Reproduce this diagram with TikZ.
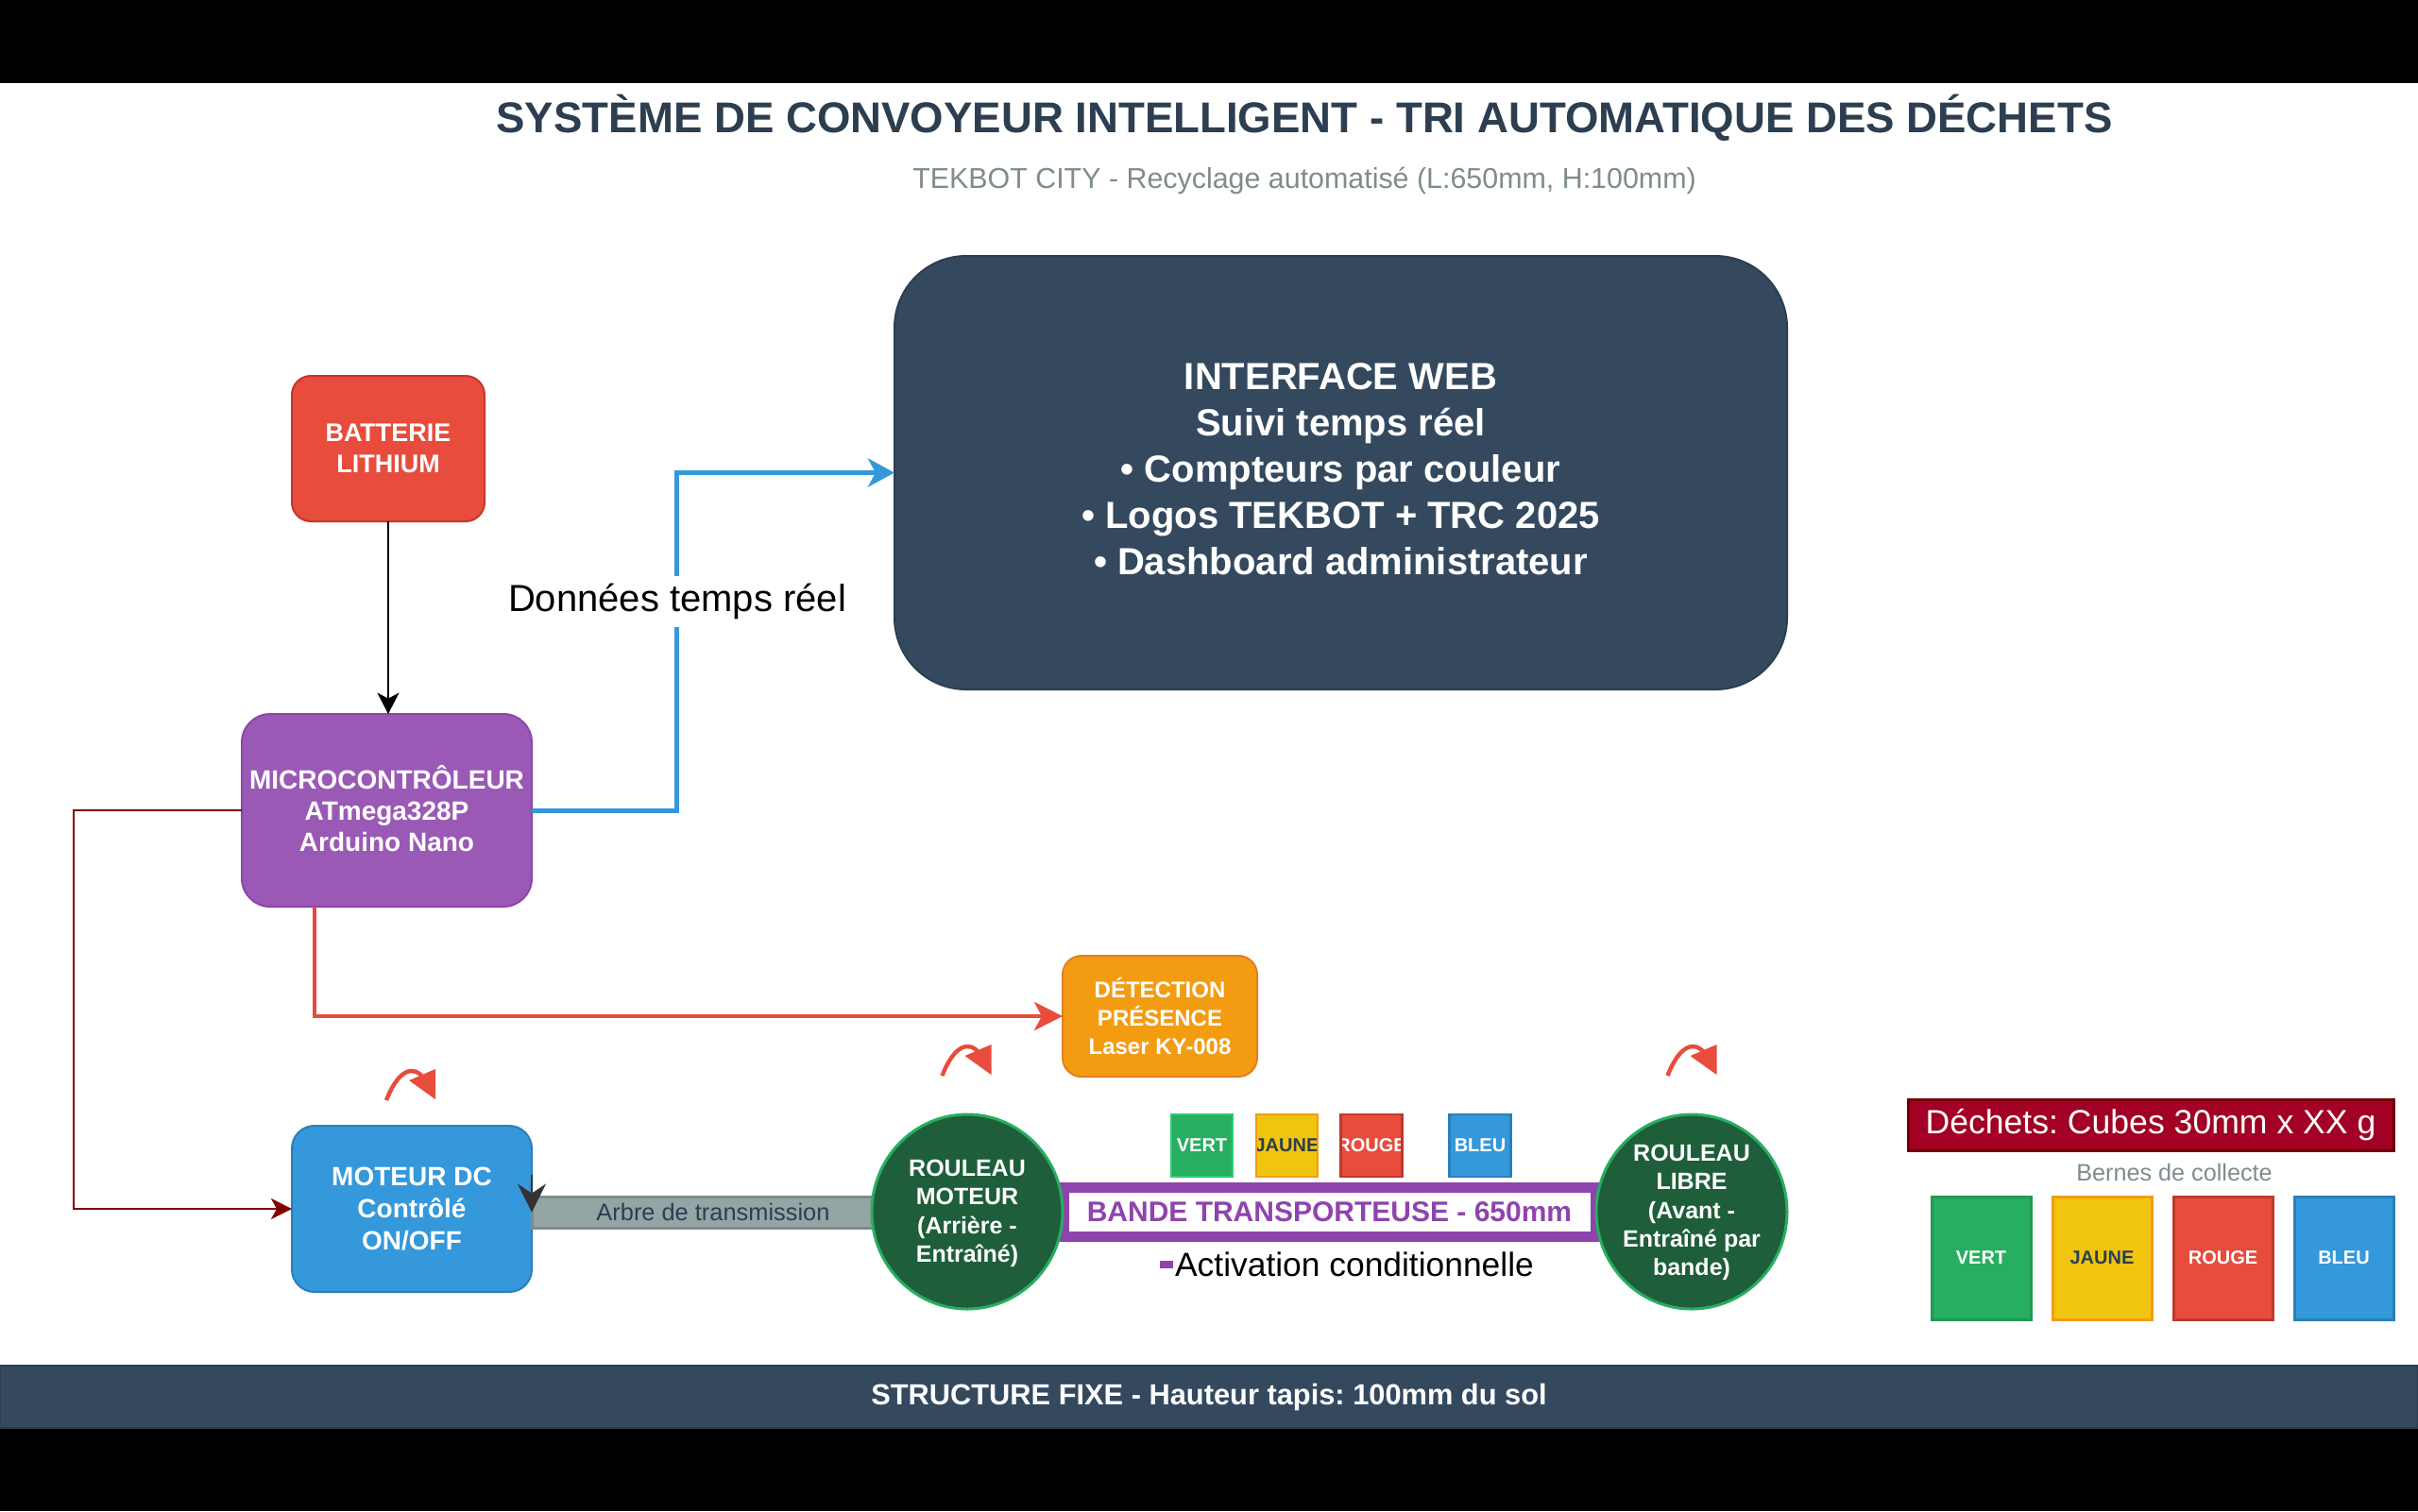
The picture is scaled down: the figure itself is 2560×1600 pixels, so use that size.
\documentclass[tikz,border=0pt]{standalone}
\usepackage{fontspec}
\setmainfont{Liberation Sans}
\usetikzlibrary{arrows.meta,shapes.geometric,calc}
\definecolor{dark}{HTML}{2C3E50}
\definecolor{slate}{HTML}{34495E}
\definecolor{grayt}{HTML}{7F8C8D}
\definecolor{redA}{HTML}{E74C3C}
\definecolor{redB}{HTML}{C0392B}
\definecolor{purA}{HTML}{9B59B6}
\definecolor{purB}{HTML}{8E44AD}
\definecolor{orA}{HTML}{F39C12}
\definecolor{orB}{HTML}{E67E22}
\definecolor{bluA}{HTML}{3498DB}
\definecolor{bluB}{HTML}{2980B9}
\definecolor{grnA}{HTML}{27AE60}
\definecolor{grnB}{HTML}{229954}
\definecolor{grnD}{HTML}{1E5E3A}
\definecolor{grnL}{HTML}{2ECC71}
\definecolor{yelA}{HTML}{F1C40F}
\definecolor{shaftc}{HTML}{95A5A6}
\definecolor{crim}{HTML}{A20025}
\definecolor{crimB}{HTML}{6F0000}
\definecolor{maroonc}{HTML}{800000}
\definecolor{tipgray}{HTML}{333333}
\newcommand{\fs}[2]{\fontsize{#1pt}{#2pt}\selectfont}
\frenchspacing
\begin{document}
\begin{tikzpicture}[x=0.25pt,y=-0.25pt,
  every node/.style={inner sep=0pt, outer sep=0pt, align=center},
  rbox/.style={rectangle, line width=0.5pt, text=white},
  sq/.style={rectangle, line width=0.6pt, minimum width=16.25pt, minimum height=16.5pt},
  sqtxt/.style={font=\fs{5}{6}\bfseries},
  bin/.style={rectangle, line width=0.75pt, minimum width=26.25pt, minimum height=32.5pt, font=\fs{5}{6}\bfseries, text=white},
  roller/.style={ellipse, fill=grnD, draw=grnA, line width=0.75pt, minimum width=50.5pt, minimum height=51.5pt},
  rtext/.style={text=white, font=\fs{6.25}{7.6}\bfseries},
  rot/.pic={
    \draw[redA, line width=1.1pt] (-26,17) .. controls (-14,-14) and (2,-22) .. (14,-6);
    \fill[redA] (26,-16) -- (26,16) -- (-2,-4) -- cycle;
  }
]
\useasboundingbox (0,0) rectangle (2560,1600);
\fill[black] (0,0) rectangle (2560,1600);
\fill[white] (0,88) rectangle (2560,1512);

% titles
\node[anchor=base, font=\fs{11.4}{14}\bfseries, text=dark] (title) at (1381,140)
  {SYSTÈME DE CONVOYEUR INTELLIGENT - TRI AUTOMATIQUE DES DÉCHETS};
\node[anchor=base, font=\fs{7.6}{9}, text=grayt] (subtitle) at (1381,199)
  {TEKBOT CITY - Recyclage automatisé (L:650mm, H:100mm)};

% main boxes
\node[rbox, rounded corners=19pt, fill=slate, draw=dark, minimum width=236.25pt, minimum height=114.75pt] (web) at (1419.5,500.5) {};
\node[text=white, font=\fs{10}{12.25}\bfseries] (webT) at (1419.5,497)
  {INTERFACE WEB\\Suivi temps réel\\• Compteurs par couleur\\• Logos TEKBOT + TRC 2025\\• Dashboard administrateur};
\node[rbox, rounded corners=5pt, fill=redA, draw=redB, minimum width=51pt, minimum height=38.5pt,
  font=\fs{6.75}{8.25}\bfseries] (batt) at (411,475) {BATTERIE\\LITHIUM};
\node[rbox, rounded corners=7.5pt, fill=purA, draw=purB, minimum width=76.75pt, minimum height=51pt] (micro) at (409.5,858) {};
\node[text=white, font=\fs{7}{8.3}\bfseries] (microT) at (409.5,856) {MICROCONTRÔLEUR\\ATmega328P\\Arduino Nano};
\node[rbox, rounded corners=5pt, fill=orA, draw=orB, minimum width=51.5pt, minimum height=32pt,
  font=\fs{6}{7.6}\bfseries] (detect) at (1228,1076) {DÉTECTION\\PRÉSENCE\\Laser KY-008};
\node[rbox, rounded corners=6pt, fill=bluA, draw=bluB, minimum width=63.5pt, minimum height=44pt,
  font=\fs{7}{8.4}\bfseries] (moteur) at (436,1280) {MOTEUR DC\\Contrôlé\\ON/OFF};

% shaft
\node[rectangle, fill=shaftc, draw=grayt, line width=0.75pt, minimum width=96pt, minimum height=8.25pt,
  font=\fs{6.35}{7.5}, text=dark] (arbre) at (755,1283.5) {Arbre de transmission};

% belt
\node[rectangle, fill=white, draw=purB, line width=2.75pt, minimum width=140.75pt, minimum height=13pt,
  font=\fs{7.5}{9}\bfseries, text=purB] (band) at (1407.5,1283) {BANDE TRANSPORTEUSE - 650mm};

% cubes on belt
\node[sq, fill=grnA, draw=grnL, path picture={\node[sqtxt, text=white] at (path picture bounding box.center) {VERT};}] (cV) at (1272.5,1213) {};
\node[sq, fill=yelA, draw=orA, path picture={\node[sqtxt, text=dark] at (path picture bounding box.center) {JAUNE};}] (cJ) at (1362.5,1213) {};
\node[sq, fill=redA, draw=redB, path picture={\node[sqtxt, text=white] at (path picture bounding box.center) {ROUGE};}] (cR) at (1452,1213) {};
\node[sq, fill=bluA, draw=bluB, path picture={\node[sqtxt, text=white] at (path picture bounding box.center) {BLEU};}] (cB) at (1567,1213) {};

% rollers
\node[roller] (rm) at (1024,1283) {};
\node[rtext] (rmT) at (1024,1285) {ROULEAU\\MOTEUR\\(Arrière -\\Entraîné)};
\node[roller] (rl) at (1791,1283) {};
\node[rtext] (rlT) at (1791,1284) {ROULEAU\\LIBRE\\(Avant -\\Entraîné par\\bande)};

% activation label
\node[rectangle, fill=purB, minimum width=3.5pt, minimum height=2pt] (actmark) at (1235,1339) {};
\node[font=\fs{8.85}{10.5}, text=black] (act) at (1434,1339) {Activation conditionnelle};

% rotation icons
\pic at (435,1148) {rot};
\pic at (1023.5,1122) {rot};
\pic at (1791.5,1122) {rot};

% waste legend
\node[rectangle, fill=crim, draw=crimB, line width=0.75pt, minimum width=128.5pt, minimum height=13.5pt,
  font=\fs{8.9}{10.5}, text=white] (dech) at (2277,1191) {Déchets: Cubes 30mm x XX g};
\node[font=\fs{6.3}{7.5}, text=grayt] (bernes) at (2302,1241) {Bernes de collecte};
\node[bin, fill=grnA, draw=grnB] (bV) at (2097.5,1332) {VERT};
\node[bin, fill=yelA, draw=orA, text=dark] (bJ) at (2225.5,1332) {JAUNE};
\node[bin, fill=redA, draw=redB] (bR) at (2353.5,1332) {ROUGE};
\node[bin, fill=bluA, draw=bluB] (bB) at (2481.5,1332) {BLEU};

% bottom structure bar
\node[rectangle, fill=slate, draw=dark, line width=0.5pt, minimum width=640pt, minimum height=16.5pt] (struct) at (1280,1479) {};
\node[anchor=base, font=\fs{7.7}{9}\bfseries, text=white] (structT) at (1280,1487)
  {STRUCTURE FIXE - Hauteur tapis: 100mm du sol};

% connectors
\coordinate (bx) at (716,0);
\coordinate (lx) at (78,0);
\coordinate (shaftTop) at (563,1244);
\draw[black, line width=0.55pt, -{Stealth[length=5.6pt,width=5.75pt,inset=1.5pt]}]
  (batt.south) -- (batt.south |- micro.north);
\draw[bluA, line width=1.25pt, -{Stealth[length=7pt,width=7.5pt,inset=2pt]}]
  (micro.east) -- (micro.east -| bx) |- (web.west);
\node[fill=white, inner sep=2pt, font=\fs{10}{12}, text=black] (lblData) at (717,637) {Données temps réel};
\draw[maroonc, line width=0.65pt, -{Stealth[length=5.5pt,width=5.5pt,inset=1.5pt]}]
  (micro.west) -- (micro.west -| lx) |- (moteur.west);
\draw[redA, line width=1.1pt, -{Stealth[length=7.5pt,width=7.5pt,inset=2pt]}]
  ($(micro.south west)!0.25!(micro.south east)$) |- (detect.west);
\draw[tipgray, line width=0.5pt, -{Stealth[length=7.5pt,width=7.5pt,inset=2.5pt]}]
  (shaftTop) -- (arbre.west);
\end{tikzpicture}
\end{document}
